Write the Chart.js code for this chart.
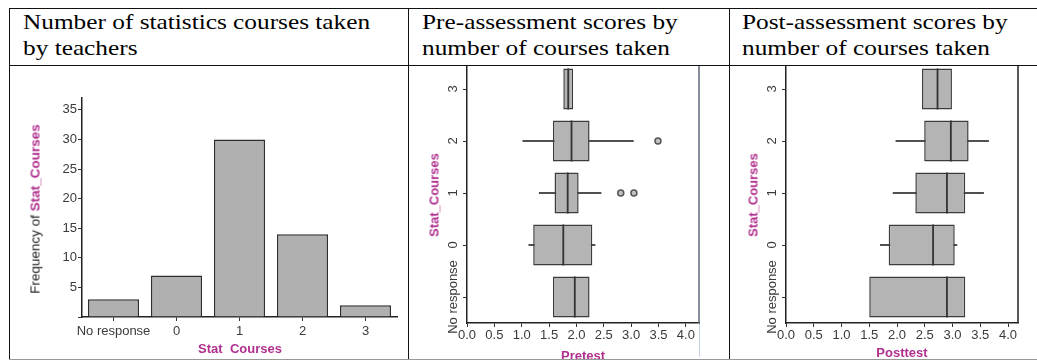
<!DOCTYPE html>
<html>
<head>
<meta charset="utf-8">
<script src="https://cdn.jsdelivr.net/npm/chart.js@4.4.0/dist/chart.umd.min.js"></script>
<style>
  body { margin: 0; background: #fff; }
  #page { position: relative; width: 1037px; height: 360px; overflow: hidden; background: #fff; font-family: "Liberation Sans", Arial, sans-serif; }
  .ln { position: absolute; background: #111; z-index: 3; }
  .head { position: absolute; top: 9px; font: 22px/26px "Liberation Serif", "Times New Roman", serif; color: #000; z-index: 3; white-space: nowrap; transform: scaleX(1.15); transform-origin: 0 0; }
  .cover { position: absolute; left: 0; top: 0; width: 1037px; height: 65px; background: #fff; z-index: 2; }
  canvas { position: absolute; z-index: 1; }
  .t { position: absolute; font-size: 13px; white-space: nowrap; z-index: 1; }
  .mag { color: #b0308e; font-weight: bold; }
  .rot { transform: translate(-50%, -50%) rotate(-90deg); }
  .hor { transform: translate(-50%, -50%); }
</style>
</head>
<body>
<div id="page">
  <div class="cover"></div>
  <div class="head" style="left:23px">Number of statistics courses taken<br>by teachers</div>
  <div class="head" style="left:422px">Pre-assessment scores by<br>number of courses taken</div>
  <div class="head" style="left:742px">Post-assessment scores by<br>number of courses taken</div>

  <div class="ln" style="left:9px;top:8px;width:1028px;height:1px"></div>
  <div class="ln" style="left:9px;top:65px;width:1028px;height:1px"></div>
  <div class="ln" style="left:9px;top:8px;width:1px;height:352px"></div>
  <div class="ln" style="left:408px;top:8px;width:1px;height:352px"></div>
  <div class="ln" style="left:729px;top:8px;width:1px;height:352px"></div>
  <div class="ln" style="left:9px;top:359px;width:1028px;height:1px;background:#999"></div>
  <div class="ln" style="left:699px;top:323px;width:1px;height:34px;background:#c5d0e6;z-index:1"></div>

  <canvas id="c1" width="397" height="292" style="left:10px;top:66px"></canvas>
  <canvas id="c2" width="319" height="296" style="left:409px;top:60px"></canvas>
  <canvas id="c3" width="307" height="296" style="left:730px;top:60px"></canvas>

  <div class="t rot" style="left:35px;top:209px;color:#222;font-size:13.5px">Frequency of <span class="mag">Stat_Courses</span></div>
  <div class="t hor mag" style="left:240px;top:348px">Stat&nbsp;&nbsp;Courses</div>
  <div class="t rot mag" style="left:434px;top:195px">Stat_Courses</div>
  <div class="t hor mag" style="left:583px;top:355px">Pretest</div>
  <div class="t rot mag" style="left:753px;top:195px">Stat_Courses</div>
  <div class="t hor mag" style="left:902px;top:352px">Posttest</div>
</div>
<script>
// bar chart: frequency of number of stat courses
const courseLabels = ['No response', '0', '1', '2', '3'];
const courseCounts = [3, 7, 30, 14, 2];

// box plots, categories listed top to bottom
const boxLabels = ['3', '2', '1', '0', 'No response'];

const preQ1 = [1.76, 1.57, 1.60, 1.21, 1.57];
const preMedian = [1.85, 1.91, 1.84, 1.76, 1.97];
const preQ3 = [1.94, 2.24, 2.04, 2.29, 2.24];
const preMin = [null, 1.02, 1.32, 1.13, null];
const preMax = [null, 3.04, 2.45, 2.34, null];
const preOutliers = [['2', 3.49], ['1', 2.81], ['1', 3.05]];

const postQ1 = [2.45, 2.49, 2.33, 1.85, 1.50];
const postMedian = [2.73, 2.97, 2.90, 2.65, 2.90];
const postQ3 = [2.99, 3.29, 3.23, 3.04, 3.23];
const postMin = [null, 1.98, 1.93, 1.70, null];
const postMax = [null, 3.65, 3.56, 3.08, null];

const tickFont = { family: 'Liberation Sans', size: 13 };
const tickColor = '#3a3a3a';

// rotated category labels on the y axis + right frame line
const sideLabels = {
  id: 'sideLabels',
  afterDraw(chart, args, opts) {
    const ctx = chart.ctx, s = chart.scales.y, area = chart.chartArea;
    ctx.save();
    ctx.font = '13px "Liberation Sans"';
    ctx.fillStyle = tickColor;
    ctx.textAlign = 'center';
    ctx.textBaseline = 'middle';
    s.ticks.forEach((t, i) => {
      ctx.save();
      ctx.translate(s.right - opts.offset, s.getPixelForTick(i));
      ctx.rotate(-Math.PI / 2);
      ctx.fillText(s.getLabelForValue(t.value), 0, 0);
      ctx.restore();
    });
    ctx.strokeStyle = opts.frameColor;
    ctx.lineWidth = 1.5;
    ctx.beginPath();
    ctx.moveTo(area.right, area.top);
    ctx.lineTo(area.right, area.bottom);
    ctx.stroke();
    ctx.restore();
  }
};

new Chart(document.getElementById('c1'), {
  type: 'bar',
  data: {
    labels: courseLabels,
    datasets: [{
      data: courseCounts,
      backgroundColor: '#b0b0b0',
      borderColor: '#2e2e2e',
      borderWidth: 1.5,
      categoryPercentage: 1,
      barPercentage: 0.81
    }]
  },
  options: {
    responsive: false,
    animation: false,
    layout: { autoPadding: false, padding: { left: 0, right: 10, top: 32, bottom: 0 } },
    plugins: { legend: { display: false }, tooltip: { enabled: false } },
    scales: {
      x: {
        afterFit: (s) => { s.height = 41; },
        grid: { offset: false, drawOnChartArea: false, tickLength: 4, color: '#333' },
        border: { color: '#222', width: 1.5 },
        ticks: { font: tickFont, color: tickColor, padding: 3, maxRotation: 0, minRotation: 0, autoSkip: false }
      },
      y: {
        min: 0,
        max: 37,
        afterFit: (s) => { s.width = 72; },
        grid: { drawOnChartArea: false, tickLength: 4, color: '#333' },
        border: { color: '#222', width: 1.5 },
        ticks: {
          stepSize: 5,
          includeBounds: false,
          font: tickFont,
          color: tickColor,
          padding: 1,
          callback: (v) => (v === 0 ? '' : v)
        }
      }
    }
  }
});

function boxChart(id, q1, med, q3, lo, hi, outliers, xMax, yWidth, padRight, frameColor) {
  const datasets = [
    {
      data: boxLabels.map((_, i) => (lo[i] === null ? null : [lo[i], hi[i]])),
      backgroundColor: '#505050',
      barThickness: 1.5,
      grouped: false,
      order: 3
    },
    {
      data: boxLabels.map((_, i) => [q1[i], q3[i]]),
      backgroundColor: '#b4b4b4',
      borderColor: '#3c3c3c',
      borderWidth: 1.5,
      borderSkipped: false,
      categoryPercentage: 1,
      barPercentage: 0.79,
      grouped: false,
      order: 2
    },
    {
      type: 'line',
      indexAxis: 'y',
      data: boxLabels.map((l, i) => ({ x: med[i], y: l })),
      showLine: false,
      pointStyle: 'line',
      rotation: 90,
      radius: 20.5,
      borderColor: '#333',
      borderWidth: 1.8,
      order: 1
    }
  ];
  if (outliers.length) {
    datasets.push({
      type: 'line',
      indexAxis: 'y',
      data: outliers.map((o) => ({ x: o[1], y: o[0] })),
      showLine: false,
      pointStyle: 'circle',
      radius: 3,
      backgroundColor: '#c0c0c0',
      borderColor: '#555',
      borderWidth: 1.5,
      order: 0
    });
  }
  return new Chart(document.getElementById(id), {
    type: 'bar',
    data: { labels: boxLabels, datasets: datasets },
    plugins: [sideLabels],
    options: {
      indexAxis: 'y',
      responsive: false,
      animation: false,
      layout: { autoPadding: false, padding: { left: 0, right: padRight, top: 3, bottom: 0 } },
      plugins: {
        legend: { display: false },
        tooltip: { enabled: false },
        sideLabels: { offset: 14, frameColor: frameColor }
      },
      scales: {
        x: {
          type: 'linear',
          min: 0,
          max: xMax,
          afterFit: (s) => { s.height = 33; },
          grid: { drawOnChartArea: false, tickLength: 4, color: '#333' },
          border: { color: '#222', width: 1.5 },
          ticks: {
            stepSize: 0.5,
            includeBounds: false,
            font: tickFont,
            color: tickColor,
            padding: 1,
            callback: (v) => v.toFixed(1)
          }
        },
        y: {
          afterFit: (s) => { s.width = yWidth; },
          grid: { offset: false, drawOnChartArea: false, tickLength: 4, color: '#333' },
          border: { color: '#222', width: 1.5 },
          ticks: { display: false }
        }
      }
    }
  });
}

boxChart('c2', preQ1, preMedian, preQ3, preMin, preMax, preOutliers, 4.24, 58, 29, '#5c6678');
boxChart('c3', postQ1, postMedian, postQ3, postMin, postMax, [], 4.18, 56, 19, '#222');
</script>
</body>
</html>
